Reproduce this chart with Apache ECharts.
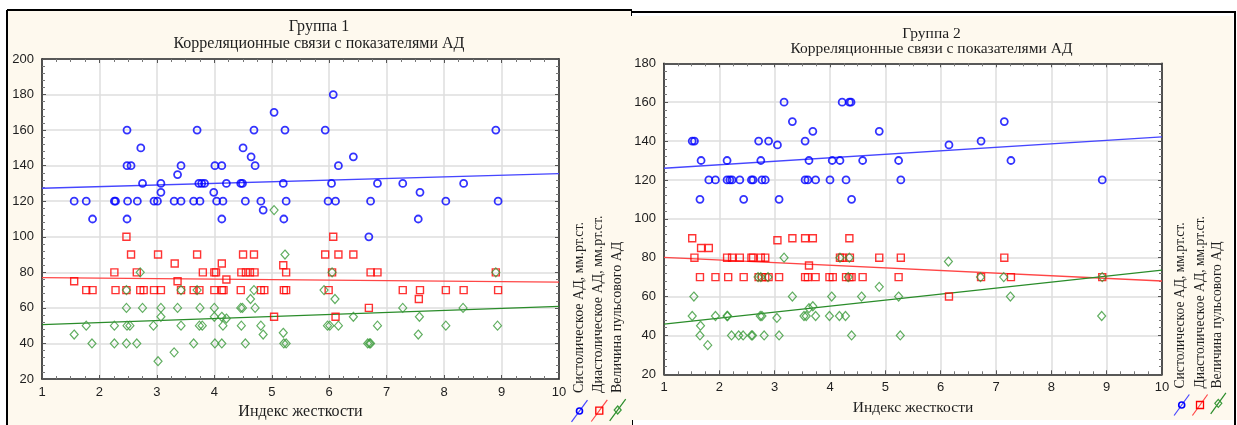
<!DOCTYPE html>
<html>
<head>
<meta charset="utf-8">
<script src="https://cdn.jsdelivr.net/npm/echarts@6/dist/echarts.min.js"></script>
<style>html,body{margin:0;padding:0;background:#fff;}#c{width:1237px;height:425px;}</style>
</head>
<body>
<div id="c"></div>
<script>
// ---------- data ----------
const xTicks = [1,2,3,4,5,6,7,8,9,10];
const seriesNames = ['Систолическое АД, мм.рт.ст.', 'Диастолическое АД, мм.рт.ст.', 'Величина пульсового АД'];
const titles1 = ['Группа 1', 'Корреляционные связи с показателями АД'];
const titles2 = ['Группа 2', 'Корреляционные связи с показателями АД'];
const xName = 'Индекс жесткости';

const g1Sys = [[1.56,120],[1.77,120],[1.88,110],[2.26,120],[2.28,120],[2.48,160],[2.48,140],[2.55,140],[2.49,120],[2.48,110],[2.66,120],[2.72,150],[2.75,130],[2.95,120],[3.01,120],[3.07,130],[3.07,125],[3.30,120],[3.42,120],[3.36,135],[3.42,140],[3.64,120],[3.75,120],[3.70,160],[3.73,130],[3.78,130],[3.83,130],[3.99,125],[4.01,140],[4.13,140],[4.04,120],[4.15,120],[4.13,110],[4.21,130],[4.46,130],[4.49,130],[4.50,150],[4.54,120],[4.64,145],[4.69,160],[4.71,140],[4.81,120],[4.85,115],[5.04,170],[5.20,130],[5.23,160],[5.25,120],[5.21,110],[5.93,160],[6.07,180],[6.04,130],[5.98,120],[6.11,120],[6.16,140],[6.42,145],[6.84,130],[6.72,120],[6.69,100],[7.28,130],[7.58,125],[7.55,110],[8.03,120],[8.34,130],[8.90,160],[8.94,120]];
const g1Dia = [[1.56,75],[1.77,70],[1.88,70],[2.26,80],[2.28,70],[2.47,100],[2.55,90],[2.47,70],[2.65,80],[2.71,70],[2.77,70],[2.95,70],[3.07,70],[3.02,90],[3.31,85],[3.36,75],[3.42,70],[3.64,70],[3.74,70],[3.70,90],[3.80,80],[4.00,80],[4.03,80],[4.00,70],[4.13,85],[4.13,70],[4.16,70],[4.21,76],[4.46,70],[4.50,90],[4.47,80],[4.55,80],[4.62,80],[4.70,80],[4.69,90],[4.81,70],[4.87,70],[5.04,55],[5.20,84],[5.25,80],[5.21,70],[5.25,70],[6.07,100],[5.93,90],[6.16,90],[6.42,90],[6.05,80],[5.99,70],[6.11,55],[6.69,60],[6.72,80],[6.84,80],[7.28,70],[7.58,70],[7.56,65],[8.03,70],[8.34,70],[8.90,80],[8.94,70]];
const g1Pul = [[1.56,45],[1.77,50],[1.87,40],[2.26,50],[2.26,40],[2.47,70],[2.47,60],[2.48,50],[2.53,50],[2.47,40],[2.71,80],[2.65,40],[2.75,60],[2.94,50],[3.02,30],[3.07,60],[3.07,55],[3.30,35],[3.36,60],[3.42,70],[3.42,50],[3.64,40],[3.70,70],[3.75,60],[3.74,50],[3.79,50],[4.00,60],[4.00,55],[4.01,40],[4.13,55],[4.21,54],[4.15,50],[4.13,40],[4.46,60],[4.49,60],[4.47,50],[4.54,40],[4.63,65],[4.69,70],[4.71,60],[4.81,50],[4.85,45],[5.04,115],[5.23,90],[5.20,46],[5.21,40],[5.25,40],[6.05,80],[5.91,70],[6.10,65],[5.97,50],[6.01,50],[6.16,50],[6.42,55],[6.67,40],[6.70,40],[6.72,40],[6.84,50],[7.28,60],[7.57,55],[7.55,45],[8.03,50],[8.33,60],[8.90,80],[8.93,50]];
const g1SysFit = [[1,127.3],[10,135.5]];
const g1DiaFit = [[1,77.0],[10,74.5]];
const g1PulFit = [[1,50.6],[10,60.9]];

const g2Sys = [[1.51,140],[1.55,140],[1.65,110],[1.67,130],[1.81,120],[1.93,120],[2.14,130],[2.14,120],[2.19,120],[2.23,120],[2.37,120],[2.44,110],[2.58,120],[2.61,120],[2.71,140],[2.75,130],[2.77,120],[2.83,120],[2.89,140],[3.05,138],[3.08,110],[3.17,160],[3.32,150],[3.55,140],[3.55,120],[3.60,120],[3.62,130],[3.69,145],[3.74,120],[4.00,120],[4.04,130],[4.18,130],[4.22,160],[4.35,160],[4.38,160],[4.29,120],[4.39,110],[4.59,130],[4.89,145],[5.24,130],[5.28,120],[6.15,138],[6.73,140],[7.15,150],[7.27,130],[8.92,120]];
const g2Dia = [[1.51,90],[1.55,80],[1.67,85],[1.81,85],[1.65,70],[1.93,70],[2.14,80],[2.23,80],[2.16,70],[2.37,80],[2.44,70],[2.58,80],[2.61,80],[2.71,70],[2.77,70],[2.83,70],[2.75,80],[2.83,80],[2.89,70],[3.05,89],[3.08,70],[3.32,90],[3.55,90],[3.69,90],[3.62,76],[3.55,70],[3.60,70],[3.74,70],[3.99,70],[4.05,70],[4.18,80],[4.22,80],[4.29,70],[4.35,70],[4.39,70],[4.35,90],[4.36,80],[4.59,70],[4.89,80],[5.24,70],[5.28,80],[6.15,60],[6.73,70],[7.15,80],[7.27,70],[8.92,70]];
const g2Pul = [[1.54,60],[1.51,50],[1.66,45],[1.65,40],[1.79,35],[1.93,50],[2.14,50],[2.15,50],[2.22,40],[2.35,40],[2.43,40],[2.58,40],[2.60,40],[2.70,70],[2.75,70],[2.74,50],[2.77,50],[2.81,40],[2.88,70],[3.04,49],[3.08,40],[3.17,80],[3.32,60],[3.53,50],[3.57,50],[3.62,54],[3.69,55],[3.74,50],[3.99,50],[4.03,60],[4.17,50],[4.28,50],[4.18,80],[4.33,70],[4.35,80],[4.39,40],[4.57,60],[4.89,65],[5.24,60],[5.27,40],[6.14,78],[6.72,70],[7.14,70],[7.26,60],[8.91,50],[8.92,70]];
const g2SysFit = [[1,126.0],[10,142.1]];
const g2DiaFit = [[1,80.2],[10,68.0]];
const g2PulFit = [[1,45.8],[10,73.6]];

// ---------- styling ----------
const SERIF = '"Liberation Serif","Times New Roman",serif';
const SANS = '"Liberation Sans",Arial,sans-serif';
const CREAM = '#fef9ee';
const TXT = '#1e1e1e';
const markerColors = ['#0000ff', '#ff0000', '#3a9a3a'];
const lineColors = ['#4646ff', '#ff4646', '#2a8c2a'];
const symbols = ['circle', 'rect', 'diamond'];
const symbolSizes = [7, 7, [8, 9]];
const borderWidths = [1.8, 1.4, 1.2];

const grids = [
  {left: 42, top: 59, width: 517, height: 321},
  {left: 664, top: 63.3, width: 498, height: 311}
];
const yMax = [200, 180];

function axisCommon(show) {
  return {
    axisLine: {show: true, onZero: false, lineStyle: {color: '#2a2a2a', width: 1.6}},
    axisTick: {show: true, inside: true, length: 4, lineStyle: {color: '#555', width: 1}},
    axisLabel: {show: show, color: TXT, fontFamily: SANS, fontSize: 13}
  };
}
function minor(n) {
  return {minorTick: {show: true, splitNumber: n, length: 3, lineStyle: {color: '#777', width: 1}}};
}

const xAxes = [], yAxes = [], series = [];
grids.forEach((g, gi) => {
  const xb = Object.assign({
    type: 'value', gridIndex: gi, min: 1, max: 10, interval: 1, position: 'bottom',
    splitLine: {show: true, lineStyle: {color: '#dedede', width: 1.5}},
    name: xName, nameLocation: 'middle', nameGap: gi === 0 ? 25 : 26,
    nameTextStyle: {fontFamily: SERIF, fontSize: gi === 0 ? 16 : 15.5, color: TXT}
  }, axisCommon(true), minor(4));
  xb.axisLabel.margin = 7;
  xAxes.push(xb);
  xAxes.push(Object.assign({
    type: 'value', gridIndex: gi, min: 1, max: 10, interval: 1, position: 'top',
    splitLine: {show: false}
  }, axisCommon(false), minor(4)));
  const yl = Object.assign({
    type: 'value', gridIndex: gi, min: 20, max: yMax[gi], interval: 20, position: 'left',
    splitLine: {show: true, lineStyle: {color: '#dedede', width: 1.5}}
  }, axisCommon(true), minor(5));
  yl.axisLabel.margin = 8;
  yAxes.push(yl);
  yAxes.push(Object.assign({
    type: 'value', gridIndex: gi, min: 20, max: yMax[gi], interval: 20, position: 'right',
    splitLine: {show: false}
  }, axisCommon(false), minor(5)));
});

const groups = [[g1Sys, g1Dia, g1Pul], [g2Sys, g2Dia, g2Pul]];
const fits = [[g1SysFit, g1DiaFit, g1PulFit], [g2SysFit, g2DiaFit, g2PulFit]];
groups.forEach((grp, gi) => {
  grp.forEach((d, si) => {
    series.push({
      type: 'line', xAxisIndex: gi * 2, yAxisIndex: gi * 2, data: fits[gi][si],
      showSymbol: false, silent: true, z: 1,
      lineStyle: {color: lineColors[si], width: 1.3}
    });
  });
  grp.forEach((d, si) => {
    series.push({
      type: 'scatter', name: seriesNames[si], xAxisIndex: gi * 2, yAxisIndex: gi * 2, data: d,
      symbol: symbols[si], symbolSize: symbolSizes[si], z: 3,
      itemStyle: {color: 'rgba(255,255,255,0)', borderColor: markerColors[si], borderWidth: borderWidths[si]}
    });
  });
});

// ---------- decorations: panel frames, titles, rotated legends ----------
const graphics = [
  {type: 'rect', z: -10, shape: {x: 7, y: 10, width: 626, height: 420}, style: {fill: CREAM}},
  {type: 'line', z: -9, shape: {x1: 7, y1: 10, x2: 632, y2: 10}, style: {stroke: '#000', lineWidth: 2}},
  {type: 'line', z: -9, shape: {x1: 7, y1: 10, x2: 7, y2: 425}, style: {stroke: '#000', lineWidth: 2}},
  {type: 'rect', z: -10, shape: {x: 632, y: 12, width: 604, height: 413}, style: {fill: '#fff'}},
  {type: 'rect', z: -9, shape: {x: 632, y: 16, width: 601, height: 404}, style: {fill: CREAM}},
  {type: 'line', z: -8, shape: {x1: 631, y1: 12, x2: 1236, y2: 12}, style: {stroke: '#000', lineWidth: 2}},
  {type: 'line', z: -8, shape: {x1: 631.5, y1: 12, x2: 631.5, y2: 16}, style: {stroke: '#000', lineWidth: 1}},
  {type: 'line', z: -8, shape: {x1: 1235, y1: 12, x2: 1235, y2: 425}, style: {stroke: '#000', lineWidth: 2}},
  {type: 'line', z: -8, shape: {x1: 632.5, y1: 420, x2: 632.5, y2: 425}, style: {stroke: '#000', lineWidth: 1}},
  {type: 'rect', z: -5, shape: {x: 42, y: 59, width: 517, height: 321}, style: {fill: '#fff'}},
  {type: 'rect', z: -5, shape: {x: 664, y: 63.3, width: 498, height: 311}, style: {fill: '#fff'}}
];
function titleText(t, x, y, size) {
  return {type: 'text', z: 5, x: x, y: y, style: {text: t, textAlign: 'center', textVerticalAlign: 'middle', font: size + 'px ' + SERIF, fill: TXT}};
}
graphics.push(titleText(titles1[0], 319, 27, 16), titleText(titles1[1], 319, 43.5, 16));
graphics.push(titleText(titles2[0], 931.5, 33.5, 15.5), titleText(titles2[1], 931.5, 49, 15.5));

function legend(textXs, textBottom, markerPts, half, size) {
  seriesNames.forEach((n, i) => {
    graphics.push({type: 'text', z: 5, x: textXs[i], y: textBottom, rotation: Math.PI / 2,
      style: {text: n, textAlign: 'left', textVerticalAlign: 'middle', font: size + 'px ' + SERIF, fill: TXT}});
    const [cx, cy] = markerPts[i];
    graphics.push({type: 'line', z: 5, shape: {x1: cx - half[0], y1: cy - half[1], x2: cx + half[0], y2: cy + half[1]},
      style: {stroke: lineColors[i], lineWidth: 1.2}});
    let m;
    if (i === 0) m = {type: 'circle', shape: {cx: cx, cy: cy, r: 3}, style: {fill: 'none', stroke: markerColors[0], lineWidth: 1.6}};
    else if (i === 1) m = {type: 'rect', shape: {x: cx - 3.5, y: cy - 3.5, width: 7, height: 7}, style: {fill: 'none', stroke: markerColors[1], lineWidth: 1.3}};
    else m = {type: 'polygon', shape: {points: [[cx, cy - 4], [cx + 3.5, cy], [cx, cy + 4], [cx - 3.5, cy]]}, style: {fill: 'none', stroke: markerColors[2], lineWidth: 1.2}};
    m.z = 6;
    graphics.push(m);
  });
}
legend([579, 598, 617], 393, [[579.5, 411], [599.3, 410.7], [617.7, 410]], [8, -10.8], 14);
legend([1180.5, 1200, 1217.5], 388.5, [[1181.7, 405], [1200, 405], [1218.3, 403.3]], [7.6, -10.5], 13.6);

const chart = echarts.init(document.getElementById('c'), null, {renderer: 'canvas'});
chart.setOption({
  animation: false,
  backgroundColor: '#fff',
  grid: grids.map(g => Object.assign({containLabel: false, show: false}, g)),
  xAxis: xAxes,
  yAxis: yAxes,
  series: series,
  graphic: {elements: graphics}
});
</script>
</body>
</html>
